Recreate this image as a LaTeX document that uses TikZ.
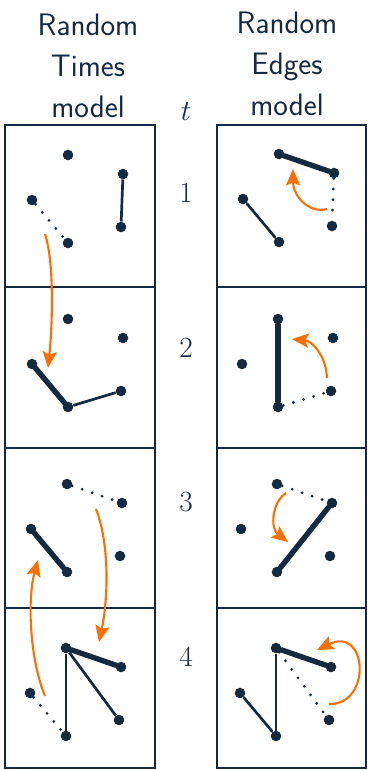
\documentclass[tikz,border=0pt]{standalone}
\usepackage{tikz}
\usetikzlibrary{arrows.meta}
\definecolor{netnavy}{RGB}{21, 42, 62}
\definecolor{netorange}{RGB}{255, 111, 0}
% five vertices of one snapshot, #2,#3 = top vertex
\newcommand{\dotpanel}[3]{%
  \node[netdot] (#1a) at (#2,#3) {};
  \node[netdot] (#1b) at (#2+55,#3+19) {};
  \node[netdot] (#1c) at (#2-36,#3+45) {};
  \node[netdot] (#1d) at (#2+53,#3+72) {};
  \node[netdot] (#1e) at (#2,#3+88) {};
}

\begin{document}
\begin{tikzpicture}[
  x=0.03cm, y=-0.03cm,
  netdot/.style={circle, fill=netnavy, inner sep=0pt, minimum size=9pt},
  panelbox/.style={draw=netnavy, line width=2.4pt},
  thinedge/.style={draw=netnavy, line width=2.3pt},
  thickedge/.style={draw=netnavy, line width=4.6pt, line cap=round},
  dotedge/.style={draw=netnavy, line width=2.6pt, line cap=round, dash pattern=on 0pt off 9pt},
  movearrow/.style={-{Stealth[length=14pt, width=12pt, inset=2.5pt]}, draw=netorange, line width=1.8pt},
  title/.style={align=center, anchor=north, inner sep=0pt, text=netnavy, font=\fontsize{26.5}{35}\selectfont\sffamily},
  timelabel/.style={text=netnavy, font=\fontsize{25}{28}\selectfont}
]
  \useasboundingbox (0,0) rectangle (375,770);

  % headers
  \node[title] (rtm) at (88,14) {Random\\Times\\model};
  \node[title] (rem) at (287,12) {Random\\Edges\\model};
  \node[timelabel] (tt) at (186,112) {$t$};
  \node[timelabel] (t1) at (186,193) {1};
  \node[timelabel] (t2) at (186,348) {2};
  \node[timelabel] (t3) at (186,502) {3};
  \node[timelabel] (t4) at (186,657) {4};

  % frames
  \draw[panelbox] (5,125) rectangle (155,287);
  \draw[panelbox] (5,287) rectangle (155,448);
  \draw[panelbox] (5,448) rectangle (155,608);
  \draw[panelbox] (5,608) rectangle (155,768);
  \draw[panelbox] (217,125) rectangle (366,287);
  \draw[panelbox] (217,287) rectangle (366,448);
  \draw[panelbox] (217,448) rectangle (366,608);
  \draw[panelbox] (217,608) rectangle (366,768);

  % vertices
  \dotpanel{L1}{68}{155}
  \dotpanel{L2}{68}{319}
  \dotpanel{L3}{67}{484}
  \dotpanel{L4}{66}{648}
  \dotpanel{R1}{279}{154}
  \dotpanel{R2}{278}{319}
  \dotpanel{R3}{277}{484}
  \dotpanel{R4}{276}{648}

  % random times model
  \draw[thinedge] (L1b) -- (L1d);
  \draw[dotedge] (L1c) -- (L1e);
  \draw[thickedge] (L2c) -- (L2e);
  \draw[thinedge] (L2e) -- (L2d);
  \draw[thickedge] (L3c) -- (L3e);
  \draw[dotedge] (L3a) -- (L3b);
  \draw[thickedge] (L4a) -- (L4b);
  \draw[thinedge] (L4a) -- (L4d);
  \draw[thinedge] (L4a) -- (L4e);
  \draw[dotedge] (L4c) -- (L4e);

  % random edges model
  \draw[thickedge] (R1a) -- (R1b);
  \draw[thinedge] (R1c) -- (R1e);
  \draw[dotedge] (R1b) -- (R1d);
  \draw[thickedge] (R2a) -- (R2e);
  \draw[dotedge] (R2e) -- (R2d);
  \draw[thickedge] (R3e) -- (R3b);
  \draw[dotedge] (R3a) -- (R3b);
  \draw[thickedge] (R4a) -- (R4b);
  \draw[thinedge] (R4a) -- (R4e);
  \draw[thinedge] (R4c) -- (R4e);
  \draw[dotedge] (R4a) -- (R4d);

  % arrow ends
  \coordinate (m1s) at (45,234);
  \coordinate (m1e) at (48,368);
  \coordinate (m2s) at (96,509);
  \coordinate (m2e) at (99,642);
  \coordinate (m3s) at (45,696);
  \coordinate (m3e) at (38,560);
  \coordinate (m4s) at (327,209);
  \coordinate (m4e) at (293,169);
  \coordinate (m5s) at (327,378);
  \coordinate (m5e) at (292,339);
  \coordinate (m6s) at (286,493);
  \coordinate (m6e) at (288,542);
  \coordinate (m7s) at (329,704);
  \coordinate (m7e) at (317,650);

  \draw[movearrow] (m1s) .. controls (55,265) and (52,330) .. (m1e);
  \draw[movearrow] (m2s) .. controls (110,545) and (108,600) .. (m2e);
  \draw[movearrow] (m3s) .. controls (30,660) and (27,600) .. (m3e);
  \draw[movearrow] (m4s) .. controls (308,214) and (293,195) .. (m4e);
  \draw[movearrow] (m5s) .. controls (326,355) and (312,341) .. (m5e);
  \draw[movearrow] (m6s) .. controls (272,502) and (270,528) .. (m6e);
  \draw[movearrow] (m7s) .. controls (372,705) and (368,625) .. (m7e);

\end{tikzpicture}
\end{document}
